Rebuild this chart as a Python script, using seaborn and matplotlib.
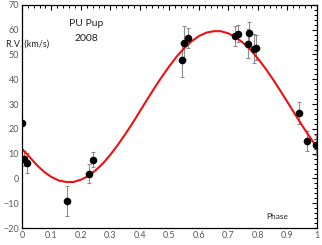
import numpy as np
import pandas as pd
import matplotlib
matplotlib.use("Agg")
import matplotlib.pyplot as plt
from matplotlib.ticker import MultipleLocator
import seaborn as sns

# Observed radial velocities (phase, km/s, error)
phase = [0.000, 0.008, 0.018, 0.152, 0.226, 0.241, 0.544, 0.548, 0.563,
         0.724, 0.731, 0.766, 0.769, 0.788, 0.794, 0.938, 0.966, 0.996]
rv = [22.4, 7.9, 6.4, -9.0, 2.0, 7.6, 47.8, 54.8, 56.8,
      57.5, 58.4, 54.4, 58.8, 52.4, 52.8, 26.5, 15.2, 13.4]
rv_err = [0.0, 3.0, 4.0, 6.0, 4.0, 3.0, 7.0, 6.5, 4.0,
          4.0, 3.5, 6.0, 4.5, 6.0, 5.0, 4.5, 4.0, 4.0]

# Fitted orbit curve, every 0.025 in phase
fit_phase = [0.000, 0.025, 0.050, 0.075, 0.100, 0.125, 0.150, 0.175, 0.200,
             0.225, 0.250, 0.275, 0.300, 0.325, 0.350, 0.375, 0.400, 0.425,
             0.450, 0.475, 0.500, 0.525, 0.550, 0.575, 0.600, 0.625, 0.650,
             0.675, 0.700, 0.725, 0.750, 0.775, 0.800, 0.825, 0.850, 0.875,
             0.900, 0.925, 0.950, 0.975, 1.000]
fit_rv = [12.0, 8.8, 5.5, 2.7, 0.6, -0.8, -1.4, -1.4, -0.5,
          1.0, 3.3, 6.1, 9.6, 13.5, 17.8, 22.3, 27.1, 31.9,
          36.6, 41.1, 45.3, 49.2, 52.5, 55.3, 57.4, 58.8, 59.4,
          59.4, 58.5, 57.0, 54.7, 51.9, 48.4, 44.5, 40.2, 35.6,
          30.9, 26.1, 21.4, 16.9, 12.7]

obs = pd.DataFrame({"phase": phase, "rv": rv, "err": rv_err})
fit = pd.DataFrame({"phase": fit_phase, "rv": fit_rv})

sns.set_style("white")
plt.rcParams["font.family"] = ["Lato", "DejaVu Sans"]

fig = plt.figure(figsize=(3.22, 2.45), dpi=100)
ax = fig.add_axes([0.068, 0.069, 0.916, 0.911])

# error bars first, then curve, then points on top
ax.errorbar(obs["phase"], obs["rv"], yerr=obs["err"], fmt="none",
            ecolor="#8c8c8c", elinewidth=0.8, capsize=1.6, capthick=0.8, zorder=1)
sns.lineplot(data=fit, x="phase", y="rv", color="#ee1111", linewidth=1.5,
             ax=ax, zorder=2, sort=False)
sns.scatterplot(data=obs, x="phase", y="rv", color="black", s=30,
                edgecolor="black", linewidth=0, ax=ax, zorder=3)

ax.set_xlim(0, 1)
ax.set_ylim(-20, 70)
ax.xaxis.set_major_locator(MultipleLocator(0.1))
ax.xaxis.set_minor_locator(MultipleLocator(0.02))
ax.yaxis.set_major_locator(MultipleLocator(10))
ax.yaxis.set_minor_locator(MultipleLocator(2))
ax.set_xticklabels([f"{v:g}" for v in np.round(ax.get_xticks(), 1)])
ax.tick_params(which="both", direction="in", top=True, right=True,
               colors="black", labelcolor="#595959", labelsize=6.5, pad=2)
ax.tick_params(which="major", length=3.5, width=0.8)
ax.tick_params(which="minor", length=2, width=0.7)
for s in ax.spines.values():
    s.set_color("black")
    s.set_linewidth(0.9)
ax.set_xlabel("")
ax.set_ylabel("")

ax.text(0.218, 62.5, "PU Pup", ha="center", va="center", fontsize=7.5, color="#222222")
ax.text(0.218, 56.4, "2008", ha="center", va="center", fontsize=7.5, color="#222222")
fig.text(0.019, 0.82, "R.V. (km/s)", ha="left", va="center", fontsize=6.5, color="#222222")
ax.text(0.864, -15.5, "Phase", ha="center", va="center", fontsize=6, color="#222222")

fig.savefig("out.png", dpi=100)
